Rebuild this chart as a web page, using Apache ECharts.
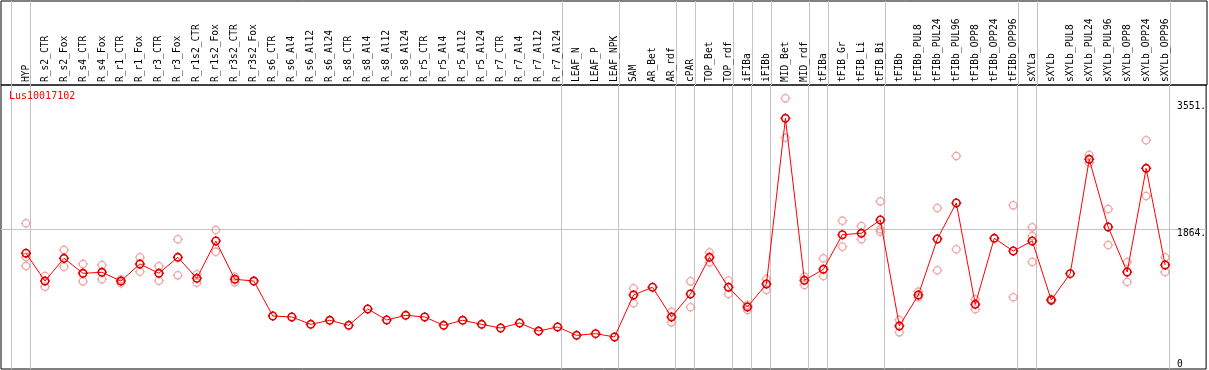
<!DOCTYPE html>
<html>
<head>
<meta charset="utf-8">
<script src="https://cdn.jsdelivr.net/npm/echarts@6/dist/echarts.min.js"></script>
<style>
  html, body { margin: 0; padding: 0; background: #fff; }
  #chart { width: 1209px; height: 370px; }
</style>
</head>
<body>
<div id="chart"></div>
<script>
const categories = ['HYP', 'R_s2_CTR', 'R_s2_Fox', 'R_s4_CTR', 'R_s4_Fox', 'R_r1_CTR', 'R_r1_Fox', 'R_r3_CTR', 'R_r3_Fox',
    'R_r1s2_CTR', 'R_r1s2_Fox', 'R_r3s2_CTR', 'R_r3s2_Fox', 'R_s6_CTR', 'R_s6_Al4', 'R_s6_Al12', 'R_s6_Al24',
    'R_s8_CTR', 'R_s8_Al4', 'R_s8_Al12', 'R_s8_Al24', 'R_r5_CTR', 'R_r5_Al4', 'R_r5_Al12', 'R_r5_Al24',
    'R_r7_CTR', 'R_r7_Al4', 'R_r7_Al12', 'R_r7_Al24', 'LEAF_N', 'LEAF_P', 'LEAF_NPK', 'SAM', 'AR_Bet', 'AR_rdf',
    'cPAR', 'TOP_Bet', 'TOP_rdf', 'iFIBa', 'iFIBb', 'MID_Bet', 'MID_rdf', 'tFIBa', 'tFIB_Gr', 'tFIB_Li', 'tFIB_Bi',
    'tFIBb', 'tFIBb_PUL8', 'tFIBb_PUL24', 'tFIBb_PUL96', 'tFIBb_OPP8', 'tFIBb_OPP24', 'tFIBb_OPP96',
    'sXYLa', 'sXYLb', 'sXYLb_PUL8', 'sXYLb_PUL24', 'sXYLb_PUL96', 'sXYLb_OPP8', 'sXYLb_OPP24', 'sXYLb_OPP96'];

// mean expression per sample
const means = [1540, 1170, 1472, 1273, 1286, 1170, 1397, 1273, 1485, 1206, 1702, 1193, 1170,
    705, 692, 594, 648, 581, 798, 652, 714, 692, 581, 648, 594, 545, 612, 505, 559,
    448, 470, 426, 984, 1087, 692, 998, 1485, 1087, 825, 1131, 3334, 1179, 1326, 1786, 1805, 1982,
    572, 984, 1729, 2208, 860, 1738, 1569, 1702, 918, 1268, 2789, 1889, 1290, 2669, 1383];

// replicate values per sample
const replicates = [[1938, 1490, 1370], [1237, 1095], [1583, 1361], [1397, 1166], [1383, 1193], [1193, 1140],
    [1485, 1294], [1370, 1175], [1725, 1246], [1259, 1148], [1849, 1560], [1228, 1153], [],
    [], [], [], [], [], [], [], [], [], [], [], [], [], [], [], [],
    [], [], [], [1073, 874], [], [762, 621], [1166, 821], [1552, 1419], [1175, 998], [851, 785], [1197, 1051],
    [3600, 3076], [1228, 1117], [1472, 1237], [1972, 1627], [1902, 1725], [2230, 1858, 1826],
    [652, 488], [1028, 954], [2141, 1313], [2833, 1592], [927, 794], [], [2177, 954],
    [1885, 1769, 1423], [931, 905], [], [2846, 2744], [2128, 1649], [1423, 1157], [3042, 2301], [1485, 1290]];

// last sample index of each group (-1 = left edge)
const groupEnds = [-1, 0, 28, 31, 34, 35, 37, 38, 39, 41, 42, 45, 52, 53, 60];
const yLabelValues = [1864, 3551];
const yGridValues = [1864];
const yMax = 3777;
const geneId = 'Lus10017102';

const X_MIN = -1.3158, X_MAX = 62.158;
const FONT = 'DejaVu Sans Mono';
const GRID_GREY = '#c4c4c4';
const ringPath = 'path://M0,-3.7A3.7,3.7,0,1,1,0,3.7A3.7,3.7,0,1,1,0,-3.7ZM0,-5L0,-3.7M0,3.7L0,5M-5,0L-3.7,0M3.7,0L5,0';

const sepValues = groupEnds.map(i => i + 0.2);
const meanData = means.map((v, i) => [i, v]);
const repData = [];
replicates.forEach((list, i) => list.forEach(v => repData.push([i, v])));

const chart = echarts.init(document.getElementById('chart'), null, { renderer: 'canvas' });

const option = {
    animation: false,
    backgroundColor: '#fff',
    title: {
        text: geneId,
        left: 9,
        top: 91,
        padding: 0,
        textStyle: { color: '#ff0000', fontFamily: FONT, fontSize: 10, fontWeight: 'normal' }
    },
    grid: [
        { left: 1, top: 1, width: 1206, height: 84, show: true, borderColor: '#000', borderWidth: 1, backgroundColor: 'transparent' },
        { left: 1, top: 85, width: 1206, height: 284, show: true, borderColor: '#000', borderWidth: 1, backgroundColor: 'transparent' }
    ],
    xAxis: [
        {
            type: 'value', gridIndex: 0, min: X_MIN, max: X_MAX, position: 'bottom',
            axisLine: { show: false },
            axisTick: { show: false, customValues: sepValues },
            splitLine: { show: true, lineStyle: { color: GRID_GREY, width: 1 } },
            axisLabel: {
                inside: true, rotate: 90, margin: 3,
                customValues: categories.map((c, i) => i),
                formatter: v => categories[Math.round(v)],
                color: '#000', fontFamily: FONT, fontSize: 9.6
            }
        },
        {
            type: 'value', gridIndex: 1, min: X_MIN, max: X_MAX,
            axisLine: { show: false },
            axisTick: { show: false, customValues: sepValues },
            splitLine: { show: true, lineStyle: { color: GRID_GREY, width: 1 } },
            axisLabel: { show: false }
        }
    ],
    yAxis: [
        { type: 'value', gridIndex: 0, min: 0, max: 1, show: false },
        {
            type: 'value', gridIndex: 1, min: 0, max: yMax, position: 'right',
            axisLine: { show: false },
            axisTick: { show: false, customValues: yGridValues },
            splitLine: { show: true, lineStyle: { color: GRID_GREY, width: 1 } },
            axisLabel: {
                inside: true, margin: 29, align: 'left', verticalAlign: 'top',
                customValues: yLabelValues,
                formatter: v => v + '.',
                color: '#000', fontFamily: FONT, fontSize: 9.6
            }
        },
        {
            type: 'value', gridIndex: 1, min: 0, max: yMax, position: 'right',
            axisLine: { show: false },
            axisTick: { show: false },
            splitLine: { show: false },
            axisLabel: {
                inside: true, margin: 29, align: 'left', verticalAlign: 'bottom',
                customValues: [0],
                color: '#000', fontFamily: FONT, fontSize: 9.6
            }
        }
    ],
    series: [
        {
            name: 'replicates',
            type: 'scatter',
            xAxisIndex: 1,
            yAxisIndex: 1,
            data: repData,
            symbol: ringPath,
            symbolSize: 10,
            symbolKeepAspect: true,
            itemStyle: { color: 'rgba(0,0,0,0)', borderColor: '#ec9090', borderWidth: 1.3 },
            z: 2
        },
        {
            name: 'mean',
            type: 'line',
            xAxisIndex: 1,
            yAxisIndex: 1,
            data: meanData,
            symbol: ringPath,
            symbolSize: 10,
            symbolKeepAspect: true,
            showAllSymbol: true,
            lineStyle: { color: '#ff0000', width: 1 },
            itemStyle: { color: 'rgba(0,0,0,0)', borderColor: '#e00000', borderWidth: 1.6 },
            z: 3
        }
    ]
};

chart.setOption(option);
window.addEventListener('resize', chart.resize);
</script>
</body>
</html>
